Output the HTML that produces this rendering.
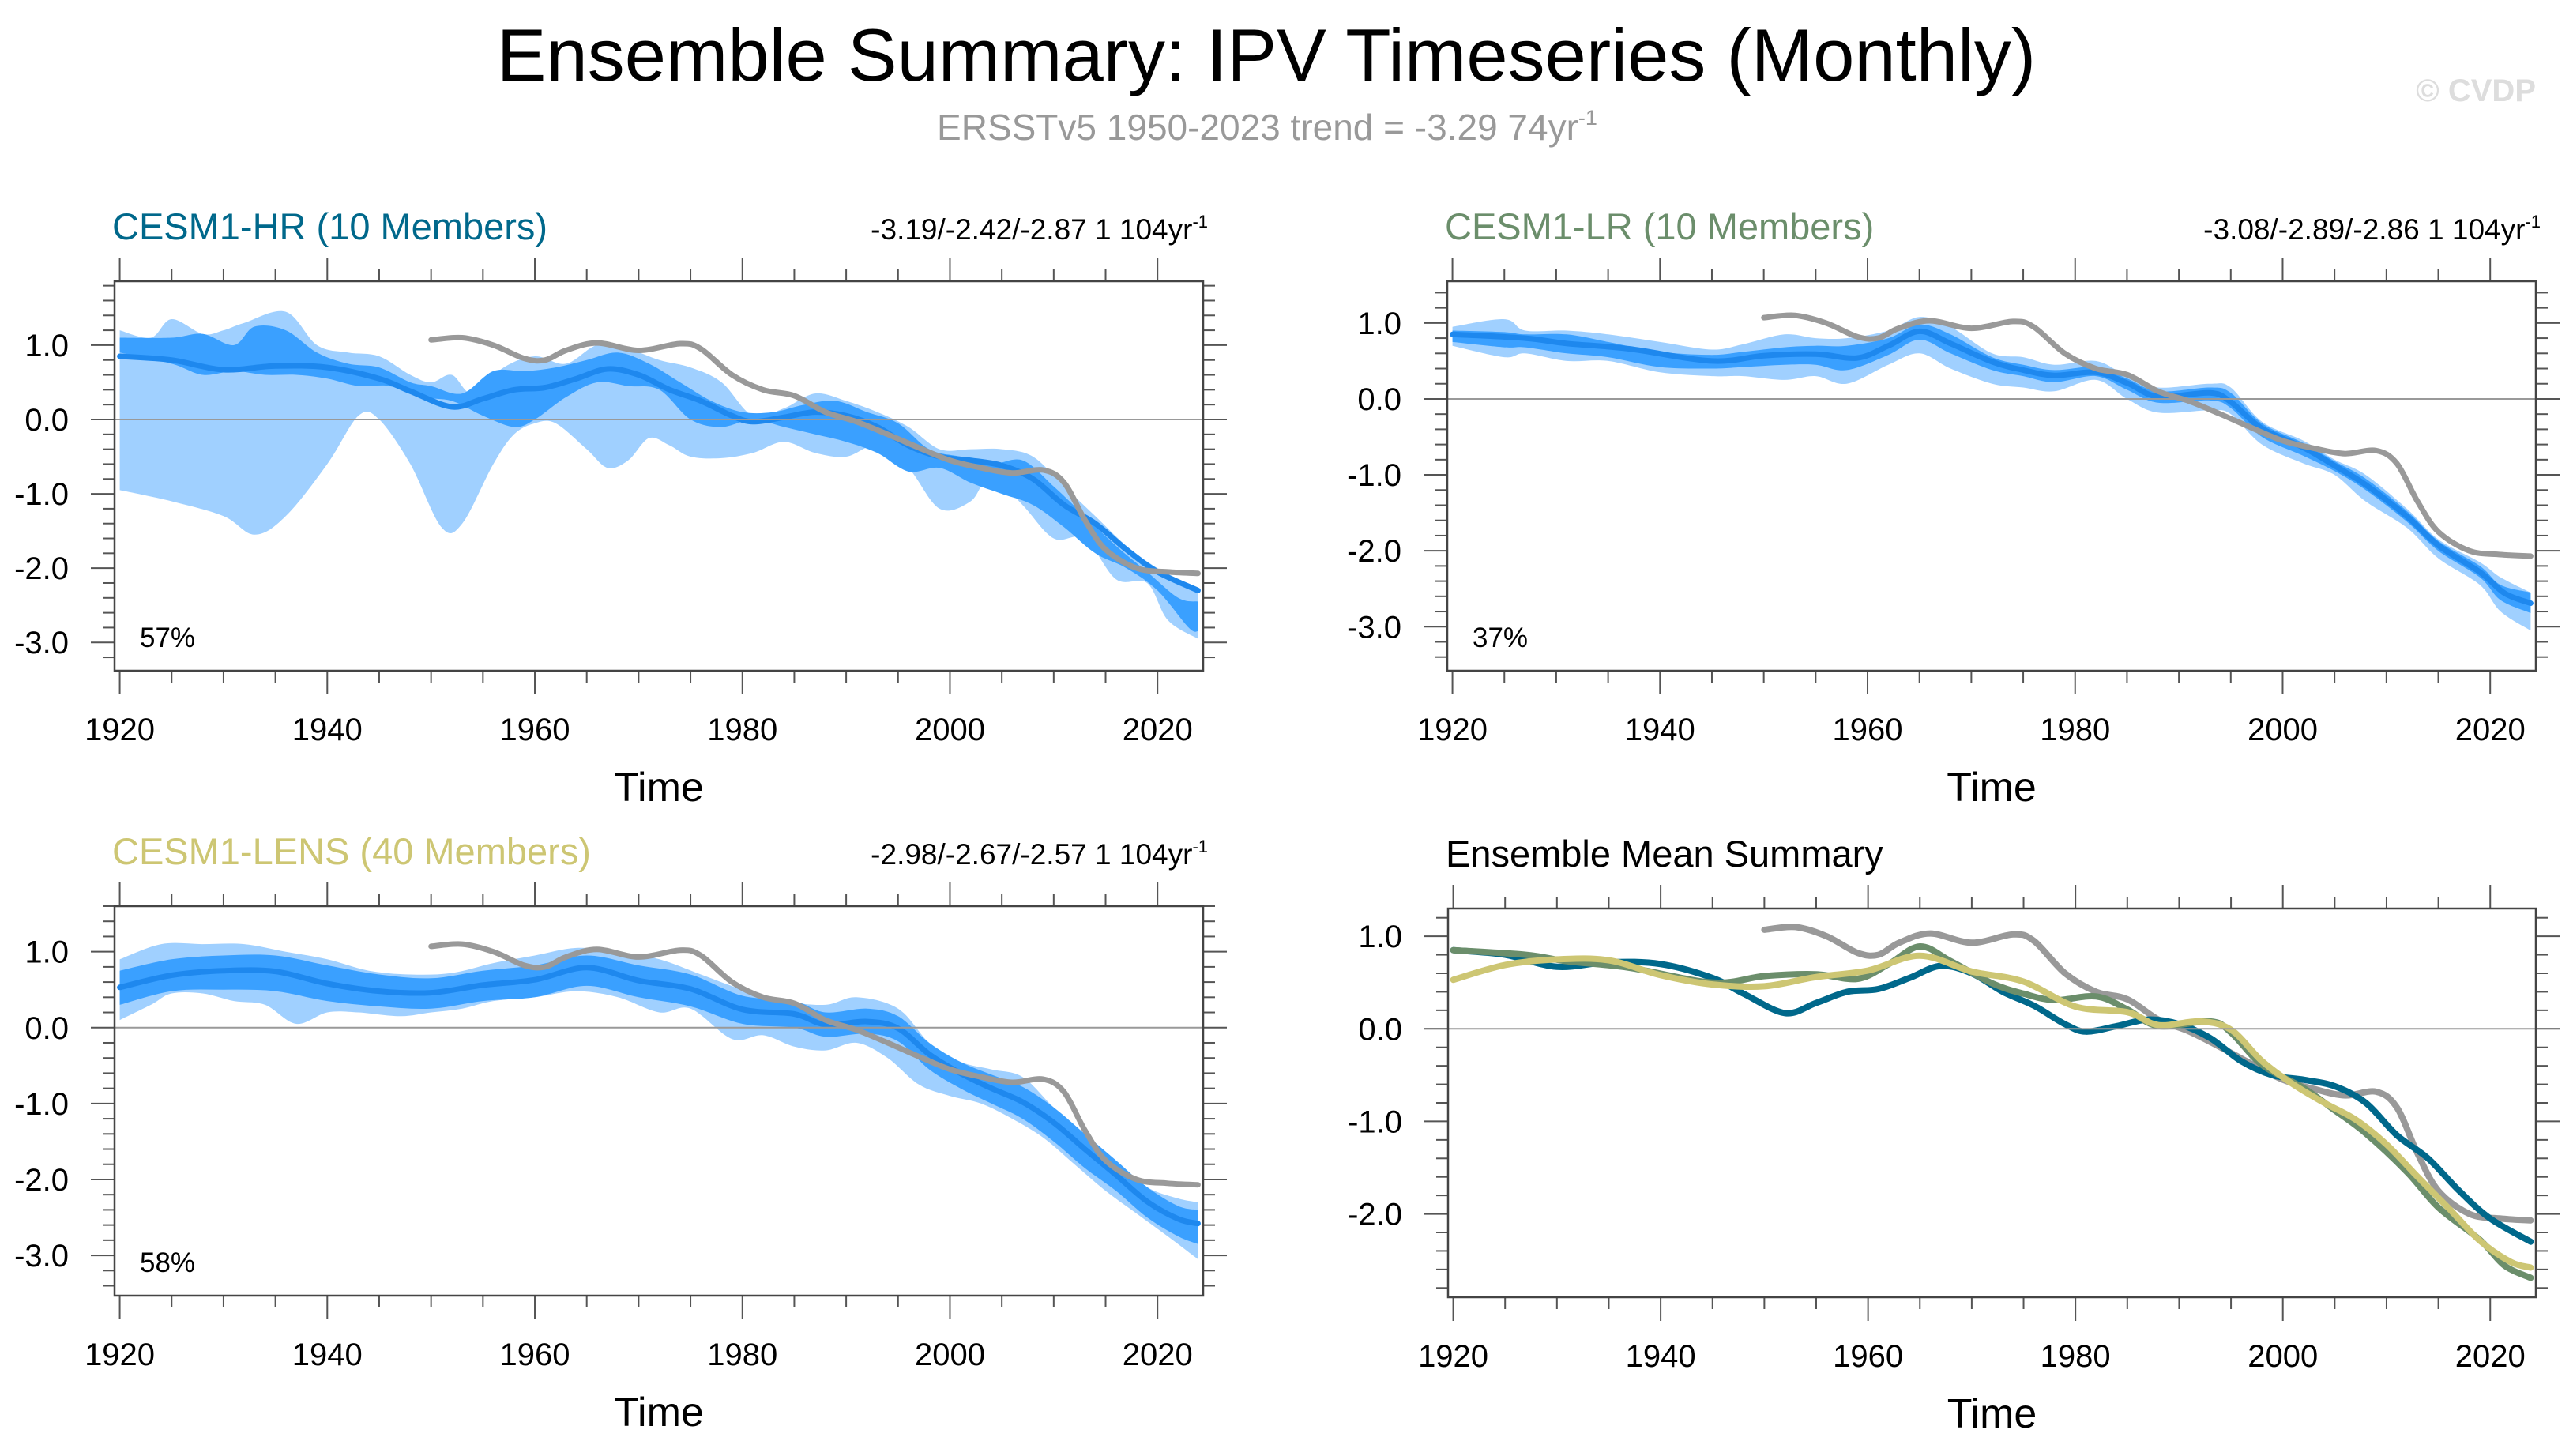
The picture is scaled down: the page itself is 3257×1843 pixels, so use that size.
<!DOCTYPE html>
<html><head><meta charset="utf-8"><style>
html,body{margin:0;padding:0;background:#fff;}
svg{display:block;font-family:"Liberation Sans",sans-serif;}
</style></head><body>
<svg id="chart" width="3257" height="1843" viewBox="0 0 3257 1843" xmlns="http://www.w3.org/2000/svg">
<text x="1603" y="102" font-size="94" text-anchor="middle" fill="#000">Ensemble Summary: IPV Timeseries (Monthly)</text>
<text x="1604" y="177" font-size="46" text-anchor="middle" fill="#999">ERSSTv5 1950-2023 trend = -3.29 74yr<tspan dy="-19" font-size="27">-1</tspan></text>
<text x="3210" y="128" font-size="40" font-weight="bold" text-anchor="end" fill="#ddd">© CVDP</text>
<g id="plots"></g>
</svg>
<script>
// ---- Observations (ERSSTv5) ----
const obsYears=[1950,1953,1956,1959,1961,1963,1966,1970,1974,1976,1979,1982,1985,1988,1991,1994,1997,2000,2003,2006,2009,2011,2013,2015,2018,2021,2023.9];
const obsVals=[1.07,1.1,1.0,0.82,0.8,0.93,1.03,0.93,1.02,0.95,0.6,0.4,0.32,0.1,-0.03,-0.2,-0.38,-0.55,-0.65,-0.72,-0.68,-0.85,-1.35,-1.75,-2.0,-2.05,-2.07];
// ---- CESM1-HR ----
const hrMeanYears=[1920,1925,1930,1935,1940,1945,1948,1952,1955,1958,1961,1964,1967,1970,1973,1976,1979,1981,1984,1987,1990,1993,1996,1999,2002,2005,2008,2011,2014,2017,2020,2023.9];
const hrMean=[0.85,0.8,0.67,0.72,0.7,0.55,0.38,0.17,0.28,0.4,0.43,0.55,0.68,0.6,0.4,0.25,0.05,-0.03,0.03,0.1,0.05,-0.1,-0.35,-0.5,-0.55,-0.62,-0.8,-1.15,-1.4,-1.75,-2.05,-2.3];
const hrLightUpYears=[1920,1923,1925,1928,1930,1932,1936,1939,1942,1945,1948,1950,1952,1954,1957,1960,1963,1966,1969,1972,1975,1978,1981,1984,1987,1990,1993,1996,1999,2002,2005,2008,2011,2014,2017,2020,2023.9];
const hrLightUp=[1.2,1.1,1.35,1.15,1.2,1.3,1.45,1.0,0.9,0.85,0.6,0.5,0.6,0.35,0.7,0.85,0.75,1.0,0.95,0.8,0.7,0.5,0.05,0.15,0.35,0.25,0.1,-0.1,-0.4,-0.4,-0.4,-0.5,-0.9,-1.3,-1.7,-2.0,-2.3];
const hrLightLoYears=[1920,1925,1930,1933,1936,1940,1943,1945,1948,1951,1953,1956,1958,1960,1962,1965,1967,1969,1971,1973,1975,1978,1981,1984,1987,1990,1993,1996,1999,2002,2004,2007,2010,2013,2016,2019,2021,2023.9];
const hrLightLo=[-0.95,-1.1,-1.3,-1.55,-1.3,-0.6,0.05,0.0,-0.6,-1.45,-1.4,-0.6,-0.2,-0.05,-0.05,-0.4,-0.65,-0.55,-0.25,-0.35,-0.5,-0.52,-0.45,-0.3,-0.45,-0.5,-0.35,-0.65,-1.2,-1.1,-0.75,-1.15,-1.6,-1.6,-2.15,-2.2,-2.7,-2.95];
const hrDarkUpYears=[1920,1925,1928,1931,1933,1936,1939,1942,1945,1948,1950,1953,1956,1959,1962,1965,1968,1971,1974,1977,1980,1983,1986,1989,1992,1995,1998,2001,2004,2007,2010,2013,2016,2019,2022,2023.9];
const hrDarkUp=[1.1,1.1,1.15,1.0,1.25,1.2,0.9,0.75,0.7,0.5,0.45,0.35,0.65,0.65,0.7,0.8,0.9,0.75,0.5,0.25,0.1,0.1,0.2,0.25,0.1,-0.05,-0.4,-0.5,-0.6,-0.55,-0.9,-1.3,-1.7,-2.05,-2.4,-2.45];
const hrDarkLoYears=[1920,1925,1928,1931,1934,1937,1940,1943,1946,1949,1952,1955,1958,1960,1963,1966,1969,1972,1975,1978,1981,1984,1987,1990,1993,1996,1999,2002,2005,2008,2011,2014,2017,2020,2023,2023.9];
const hrDarkLo=[0.9,0.75,0.6,0.65,0.6,0.6,0.55,0.45,0.45,0.3,0.25,0.05,-0.1,0.0,0.3,0.5,0.45,0.4,0.0,-0.1,0.0,-0.1,-0.2,-0.3,-0.45,-0.7,-0.65,-0.85,-1.0,-1.15,-1.45,-1.8,-2.0,-2.3,-2.8,-2.85];
// ---- CESM1-LR ----
const lrYears=[1920,1927,1931,1937,1945,1950,1955,1959,1962,1965,1968,1972,1975,1978,1982,1985,1988,1993,1995,1998,2002,2005,2008,2012,2015,2019,2021.4,2023.9];
const lrMean=[0.85,0.8,0.73,0.66,0.5,0.57,0.59,0.54,0.7,0.89,0.73,0.49,0.38,0.31,0.35,0.21,0.03,0.08,-0.04,-0.39,-0.64,-0.88,-1.13,-1.55,-1.93,-2.28,-2.56,-2.69];
const lrBandYears=[1920,1925,1927,1931,1935,1940,1945,1948,1952,1955,1958,1962,1965,1968,1972,1975,1978,1982,1985,1988,1993,1995,1998,2002,2005,2008,2012,2015,2019,2021,2023.9];
const lrLightUp=[0.95,1.05,0.9,0.9,0.85,0.75,0.65,0.72,0.85,0.8,0.8,0.9,1.08,0.95,0.6,0.55,0.45,0.5,0.3,0.15,0.2,0.15,-0.3,-0.55,-0.8,-1.0,-1.45,-1.85,-2.15,-2.35,-2.55];
const lrLightLo=[0.7,0.55,0.6,0.5,0.5,0.35,0.3,0.3,0.25,0.3,0.2,0.45,0.6,0.4,0.2,0.15,0.1,0.25,0.0,-0.18,-0.15,-0.2,-0.6,-0.85,-1.0,-1.35,-1.7,-2.1,-2.45,-2.8,-3.05];
const lrDarkUp=[0.9,0.88,0.85,0.85,0.75,0.62,0.58,0.62,0.68,0.7,0.7,0.8,0.98,0.85,0.55,0.45,0.38,0.42,0.27,0.1,0.15,0.08,-0.32,-0.58,-0.82,-1.05,-1.48,-1.87,-2.2,-2.45,-2.55];
const lrDarkLo=[0.75,0.68,0.68,0.6,0.55,0.42,0.4,0.42,0.45,0.45,0.38,0.58,0.78,0.6,0.38,0.3,0.22,0.3,0.12,-0.05,-0.02,-0.12,-0.5,-0.75,-0.95,-1.2,-1.62,-2.0,-2.35,-2.65,-2.82];
// ---- CESM1-LENS ----
const lensYears=[1920,1925,1930,1935,1940,1945,1950,1955,1960,1965,1970,1975,1980,1985,1988,1992,1995,1998,2001,2004,2007,2010,2013,2016,2019,2022,2023.9];
const lensMean=[0.53,0.69,0.75,0.74,0.58,0.48,0.46,0.56,0.63,0.79,0.62,0.51,0.24,0.18,0.04,0.08,-0.01,-0.35,-0.6,-0.8,-0.98,-1.25,-1.6,-1.94,-2.29,-2.52,-2.58];
const lensDarkUp=[0.75,0.9,0.95,0.95,0.82,0.7,0.65,0.75,0.82,0.95,0.82,0.7,0.42,0.35,0.2,0.25,0.15,-0.2,-0.45,-0.62,-0.78,-1.05,-1.4,-1.75,-2.1,-2.35,-2.4];
const lensDarkLo=[0.3,0.48,0.5,0.48,0.35,0.28,0.25,0.35,0.4,0.55,0.4,0.28,0.05,0.0,-0.12,-0.08,-0.18,-0.55,-0.8,-1.0,-1.2,-1.5,-1.85,-2.15,-2.5,-2.75,-2.85];
const lensLightUpYears=[1920,1924,1928,1932,1936,1940,1944,1948,1952,1956,1960,1964,1968,1972,1976,1980,1984,1988,1991,1995,1998,2001,2004,2007,2010,2013,2016,2019,2022,2023.9];
const lensLightUp=[0.9,1.1,1.1,1.1,1.0,0.9,0.75,0.7,0.72,0.85,0.95,1.05,1.0,0.9,0.7,0.5,0.35,0.3,0.4,0.25,-0.2,-0.45,-0.55,-0.65,-1.05,-1.4,-1.75,-2.1,-2.25,-2.3];
const lensLightLoYears=[1920,1923,1925,1928,1931,1934,1937,1940,1943,1947,1950,1953,1956,1960,1964,1968,1972,1975,1979,1982,1985,1988,1991,1994,1997,2000,2003,2006,2009,2012,2015,2018,2021,2023.9];
const lensLightLo=[0.1,0.3,0.45,0.45,0.35,0.3,0.05,0.2,0.2,0.15,0.2,0.25,0.35,0.4,0.48,0.4,0.2,0.25,-0.15,-0.1,-0.25,-0.3,-0.2,-0.4,-0.75,-0.9,-1.0,-1.2,-1.45,-1.8,-2.15,-2.45,-2.75,-3.05];
// ---- Axis tick labels ----
const xTickYears=[1920,1940,1960,1980,2000,2020];
const yTicksMain=[1,0,-1,-2,-3];
const yTicksSummary=[1,0,-1,-2];

const NS="http://www.w3.org/2000/svg";
const root=document.getElementById('plots');
function mk(tag,attrs,parent){const e=document.createElementNS(NS,tag);for(const k in attrs)e.setAttribute(k,attrs[k]);(parent||root).appendChild(e);return e;}
function pts(xs,ys,sx,sy){return xs.map((x,i)=>[sx(x),sy(ys[i])]);}
function smooth(p,move){let d=(move?'M':'L')+p[0][0].toFixed(1)+','+p[0][1].toFixed(1);
  for(let i=0;i<p.length-1;i++){const p0=p[i-1]||p[i],p1=p[i],p2=p[i+1],p3=p[i+2]||p2;
    const c1=[p1[0]+(p2[0]-p0[0])/6,p1[1]+(p2[1]-p0[1])/6],c2=[p2[0]-(p3[0]-p1[0])/6,p2[1]-(p3[1]-p1[1])/6];
    d+=' C'+c1[0].toFixed(1)+','+c1[1].toFixed(1)+' '+c2[0].toFixed(1)+','+c2[1].toFixed(1)+' '+p2[0].toFixed(1)+','+p2[1].toFixed(1);}
  return d;}
function band(g,xu,yu,xl,yl,sx,sy,fill,name){
  const up=pts(xu,yu,sx,sy),lo=pts(xl,yl,sx,sy).reverse();
  const p=mk('path',{d:smooth(up,true)+' '+smooth(lo,false)+' Z',fill:fill,stroke:'none'},g);
  
  }
function line(g,xs,ys,sx,sy,color,w,name){
  const p=mk('path',{d:smooth(pts(xs,ys,sx,sy),true),fill:'none',stroke:color,'stroke-width':w,'stroke-linecap':'round','stroke-linejoin':'round'},g);
  
  }

function panel(cfg){
  const g=mk('g',{});
  
  
  const L=cfg.L,R=cfg.R,T=cfg.T,B=cfg.B;
  const sx=y=>L+(y-1919.5)/(2024.4-1919.5)*(R-L);
  const sy=v=>T+(cfg.ymax-v)/(cfg.ymax-cfg.ymin)*(B-T);
  const cl=mk('clipPath',{id:cfg.name+'-clip'},g);mk('rect',{x:L,y:T,width:R-L,height:B-T},cl);
  const pg=mk('g',{'clip-path':'url(#'+cfg.name+'-clip)'},g);
  if(cfg.draw)cfg.draw(pg,sx,sy);
  const z=mk('line',{x1:L,x2:R,y1:sy(0),y2:sy(0),stroke:'#999','stroke-width':2},g);
  
  
  if(cfg.after)cfg.after(pg,sx,sy);
  const tg=mk('g',{stroke:'#555','stroke-width':2},g);
  
  
  for(let yr=1920;yr<=2020;yr+=5){const x=sx(yr),len=yr%20===0?30:15;
    mk('line',{x1:x,x2:x,y1:T,y2:T-len},tg);mk('line',{x1:x,x2:x,y1:B,y2:B+len},tg);}
  for(let k=Math.ceil(cfg.ymin*5);k<=Math.floor(cfg.ymax*5);k++){const v=k/5,y=sy(v),len=(k%5===0)?30:15;
    mk('line',{x1:L,x2:L-len,y1:y,y2:y},tg);mk('line',{x1:R,x2:R+len,y1:y,y2:y},tg);}
  const box=mk('rect',{x:L,y:T,width:R-L,height:B-T,fill:'none',stroke:'#444','stroke-width':2.5},g);
  
  
  xTickYears.forEach(yr=>{const t=mk('text',{x:sx(yr),y:B+88,'font-size':40,'text-anchor':'middle',fill:'#000'},g);t.textContent=yr;
    
    });
  cfg.yticks.forEach(v=>{const t=mk('text',{x:L-58,y:sy(v)+14,'font-size':40,'text-anchor':'end',fill:'#000'},g);t.textContent=v.toFixed(1);
    
    });
  const xt=mk('text',{x:(L+R)/2,y:B+165,'font-size':52,'text-anchor':'middle',fill:'#000'},g);xt.textContent='Time';
  
  
  const tt=mk('text',{x:L-3,y:T-53,'font-size':47,fill:cfg.color},g);tt.textContent=cfg.title;
  
  
  if(cfg.trend){const tr=mk('text',{x:R+6,y:T-53,'font-size':37,'text-anchor':'end',fill:'#000'},g);
    tr.innerHTML=cfg.trend+'<tspan dy="-15" font-size="22">-1</tspan>';
    
    }
  if(cfg.pct){const pt=mk('text',{x:L+32,y:B-30,'font-size':35,fill:'#000'},g);pt.textContent=cfg.pct;
    
    }
}
const LIGHT='#a0d0ff',DARK='#3aa0ff',MEAN='#1e88ee',OBS='#999999';
function ensDraw(lu,luy,ll,lly,du,duy,dl,dly,mx,my){
  return (g,sx,sy)=>{band(g,lu,luy,ll,lly,sx,sy,LIGHT,'ensemble-range-band');
    band(g,du,duy,dl,dly,sx,sy,DARK,'ensemble-iqr-band');
    line(g,mx,my,sx,sy,MEAN,7,'ensemble-mean-line');};}
const obsAfter=(g,sx,sy)=>line(g,obsYears,obsVals,sx,sy,OBS,7,'obs-line');

panel({name:'panel-cesm1-hr',L:145,R:1523,T:356,B:849,ymax:1.86,ymin:-3.38,yticks:yTicksMain,color:'#00688b',
  title:'CESM1-HR (10 Members)',trend:'-3.19/-2.42/-2.87 1 104yr',pct:'57%',
  draw:ensDraw(hrLightUpYears,hrLightUp,hrLightLoYears,hrLightLo,hrDarkUpYears,hrDarkUp,hrDarkLoYears,hrDarkLo,hrMeanYears,hrMean),after:obsAfter});
panel({name:'panel-cesm1-lr',L:1832,R:3210,T:356,B:849,ymax:1.55,ymin:-3.58,yticks:yTicksMain,color:'#6b8e6b',
  title:'CESM1-LR (10 Members)',trend:'-3.08/-2.89/-2.86 1 104yr',pct:'37%',
  draw:ensDraw(lrBandYears,lrLightUp,lrBandYears,lrLightLo,lrBandYears,lrDarkUp,lrBandYears,lrDarkLo,lrYears,lrMean),after:obsAfter});
panel({name:'panel-cesm1-lens',L:145,R:1523,T:1147,B:1640,ymax:1.6,ymin:-3.53,yticks:yTicksMain,color:'#cdc673',
  title:'CESM1-LENS (40 Members)',trend:'-2.98/-2.67/-2.57 1 104yr',pct:'58%',
  draw:ensDraw(lensLightUpYears,lensLightUp,lensLightLoYears,lensLightLo,lensYears,lensDarkUp,lensYears,lensDarkLo,lensYears,lensMean),after:obsAfter});
panel({name:'panel-ensemble-mean-summary',L:1833,R:3210,T:1150,B:1642,ymax:1.3,ymin:-2.9,yticks:yTicksSummary,color:'#000',
  title:'Ensemble Mean Summary',
  draw:(g,sx,sy)=>{line(g,obsYears,obsVals,sx,sy,OBS,8,'obs-line');
    line(g,hrMeanYears,hrMean,sx,sy,'#00688b',8,'cesm1-hr-mean-line');
    line(g,lrYears,lrMean,sx,sy,'#6b8e6b',8,'cesm1-lr-mean-line');
    line(g,lensYears,lensMean,sx,sy,'#cdc673',8,'cesm1-lens-mean-line');}});
</script>
</body></html>
